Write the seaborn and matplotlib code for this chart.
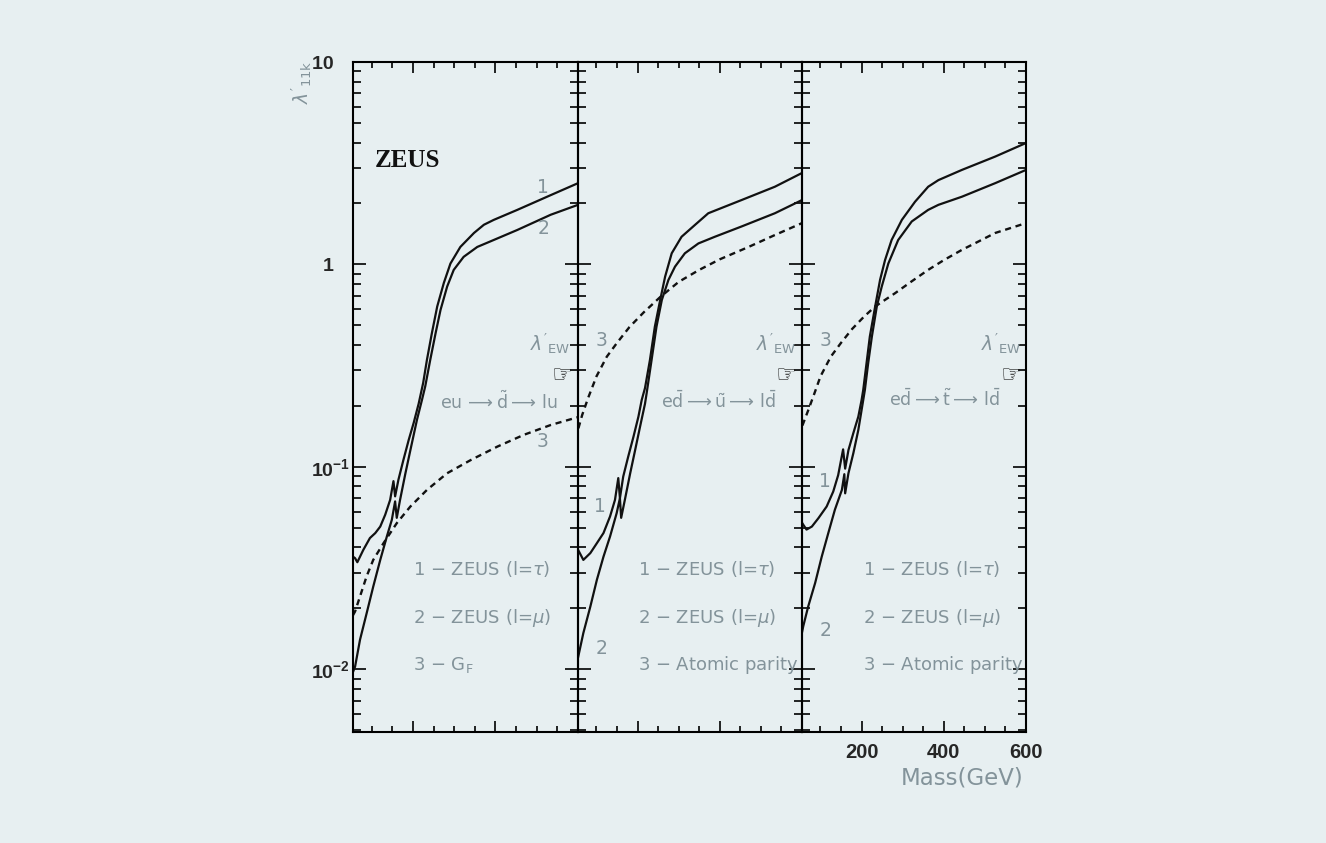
import matplotlib
matplotlib.use("Agg")
import matplotlib.pyplot as plt
from matplotlib.ticker import MultipleLocator, LogLocator, NullFormatter
import seaborn as sns

# ---------------------------------------------------------------
# Upper limits on lambda'_11k versus squark mass (GeV)
# curve 1: ZEUS (l = tau), curve 2: ZEUS (l = mu), curve 3: indirect bound
# ---------------------------------------------------------------

# eu -> d~ -> lu
d_tau_mass = [55, 60, 65.5, 80, 96, 109, 121, 133, 145, 153, 157, 165, 177, 190, 202, 214,
              225, 234, 246, 259, 275, 291, 315, 348, 372, 396, 453, 534, 600]
d_tau_lam = [0.036, 0.0354, 0.0338, 0.0389, 0.0445, 0.0471, 0.0507, 0.058, 0.0687, 0.085,
             0.0715, 0.0863, 0.108, 0.136, 0.165, 0.205, 0.26, 0.337, 0.457, 0.62, 0.81,
             1.01, 1.22, 1.43, 1.57, 1.66, 1.86, 2.20, 2.52]
d_mu_mass = [55, 60, 72, 88, 104, 121, 137, 149, 157, 161, 169, 182, 194, 210, 222, 230,
             242, 255, 267, 283, 299, 323, 356, 388, 453, 534, 600]
d_mu_lam = [0.0097, 0.0103, 0.014, 0.0189, 0.0256, 0.0347, 0.0453, 0.0547, 0.0675, 0.0560,
            0.0687, 0.093, 0.121, 0.171, 0.214, 0.25, 0.337, 0.457, 0.596, 0.777, 0.94,
            1.09, 1.22, 1.30, 1.48, 1.76, 1.97]
d_gf_mass = [55, 60, 72, 88, 104, 129, 161, 194, 234, 283, 340, 405, 469, 534, 600]
d_gf_lam = [0.0185, 0.0193, 0.0229, 0.0288, 0.0347, 0.042, 0.0527, 0.0637, 0.0769, 0.093,
            0.108, 0.126, 0.144, 0.161, 0.176]

# ed~ -> u~ -> ld~
u_tau_mass = [55, 68, 85, 101, 117, 133, 145, 153, 157, 165, 177, 190, 202, 210, 218, 230,
              242, 255, 267, 283, 307, 340, 372, 453, 534, 600]
u_tau_lam = [0.039, 0.0347, 0.0375, 0.042, 0.0471, 0.0569, 0.0687, 0.088, 0.0700, 0.0895,
             0.112, 0.141, 0.177, 0.214, 0.245, 0.337, 0.493, 0.668, 0.871, 1.135, 1.37,
             1.57, 1.79, 2.08, 2.42, 2.83]
u_mu_mass = [55, 68, 85, 101, 117, 133, 149, 157, 160, 169, 182, 194, 206, 218, 222, 234,
             246, 259, 275, 291, 315, 348, 388, 453, 534, 600]
u_mu_lam = [0.0114, 0.0151, 0.0204, 0.0277, 0.036, 0.0453, 0.059, 0.0700, 0.0560, 0.0687,
            0.093, 0.121, 0.158, 0.205, 0.231, 0.337, 0.493, 0.668, 0.838, 0.975, 1.135,
            1.27, 1.37, 1.54, 1.79, 2.08]
u_ap_mass = [56, 65, 80, 100, 125, 150, 180, 215, 255, 300, 350, 400, 470, 535, 600]
u_ap_lam = [0.155, 0.18, 0.22, 0.28, 0.35, 0.41, 0.49, 0.58, 0.69, 0.82, 0.94, 1.06, 1.22,
            1.40, 1.60]

# ed~ -> t~ -> ld~
t_tau_mass = [55, 58, 66, 79, 95, 115, 131, 143, 155, 160, 168, 180, 192, 200, 204, 212,
              220, 233, 245, 257, 273, 298, 330, 362, 387, 444, 525, 600]
t_tau_lam = [0.053, 0.0518, 0.049, 0.0507, 0.0558, 0.0637, 0.0755, 0.091, 0.122, 0.098,
             0.121, 0.147, 0.177, 0.214, 0.24, 0.325, 0.44, 0.62, 0.84, 1.05, 1.32, 1.66,
             2.04, 2.42, 2.61, 2.93, 3.41, 3.98]
t_mu_mass = [55, 58, 70, 87, 103, 119, 135, 152, 158, 160, 168, 180, 192, 204, 208, 216,
             225, 237, 249, 265, 289, 322, 362, 387, 444, 525, 600]
t_mu_lam = [0.0152, 0.0163, 0.0204, 0.0267, 0.036, 0.0471, 0.0614, 0.0769, 0.092, 0.0740,
            0.093, 0.117, 0.152, 0.214, 0.24, 0.325, 0.44, 0.62, 0.777, 1.01, 1.32, 1.63,
            1.86, 1.97, 2.16, 2.52, 2.93]
t_ap_mass = [56, 70, 85, 100, 125, 150, 177, 205, 233, 281, 320, 362, 400, 444, 485, 525, 600]
t_ap_lam = [0.16, 0.19, 0.23, 0.28, 0.35, 0.41, 0.48, 0.55, 0.62, 0.72, 0.82, 0.94, 1.05,
            1.18, 1.30, 1.43, 1.60]

reactions = [r"eu$\,\longrightarrow\tilde{\rm d}\longrightarrow\,$lu",
             r"e$\bar{\rm d}\longrightarrow\tilde{\rm u}\longrightarrow\,$l$\bar{\rm d}$",
             r"e$\bar{\rm d}\longrightarrow\tilde{\rm t}\longrightarrow\,$l$\bar{\rm d}$"]
legend_third = [r"3 $-$ G$_{\rm F}$", "3 $-$ Atomic parity", "3 $-$ Atomic parity"]
ytick_vals = [0.01, 0.1, 1, 10]
ytick_text = [r"$\mathbf{10^{-2}}$", r"$\mathbf{10^{-1}}$", "1   ", "10   "]
xtick_vals = [200, 400, 600]
xtick_text = ["200", "400", "600"]

# ---------------------------------------------------------------
sns.set_style("ticks")
bg = "#e7eff1"
grey = "#83939a"
plt.rcParams.update({
    "font.family": ["DejaVu Sans"],
    "mathtext.fontset": "custom",
    "mathtext.rm": "DejaVu Sans",
    "mathtext.it": "DejaVu Sans:italic",
    "mathtext.bf": "Liberation Sans:bold",
    "mathtext.sf": "DejaVu Sans",
    "axes.facecolor": "none",
    "axes.edgecolor": "black",
    "axes.linewidth": 1.5,
})

fig = plt.figure(figsize=(13.26, 8.43), dpi=100, facecolor=bg)
W, H = 1326.0, 843.0
edges = [353, 578, 802, 1026]
top_px, bot_px = 62, 732

panels = [
    (d_tau_mass, d_tau_lam, d_mu_mass, d_mu_lam, d_gf_mass, d_gf_lam),
    (u_tau_mass, u_tau_lam, u_mu_mass, u_mu_lam, u_ap_mass, u_ap_lam),
    (t_tau_mass, t_tau_lam, t_mu_mass, t_mu_lam, t_ap_mass, t_ap_lam),
]

# label positions inside each panel (axes fractions)
num_pos = [
    {"1": (0.846, 0.812), "2": (0.846, 0.752), "3": (0.842, 0.433)},
    {"1": (0.098, 0.336), "2": (0.105, 0.125), "3": (0.105, 0.585)},
    {"1": (0.103, 0.374), "2": (0.103, 0.152), "3": (0.103, 0.585)},
]
ew_pos = [(0.877, 0.580), (0.885, 0.580), (0.890, 0.580)]
hand_pos = [(0.930, 0.533), (0.930, 0.533), (0.935, 0.533)]
react_pos = [(0.647, 0.4925), (0.628, 0.493), (0.638, 0.496)]
leg_x = [0.267, 0.269, 0.274]
leg_y = [0.244, 0.170, 0.100]

axes = []
for i, (m1, l1, m2, l2, m3, l3) in enumerate(panels):
    left = edges[i] / W
    width = (edges[i + 1] - edges[i]) / W
    ax = fig.add_axes([left, (H - bot_px) / H, width, (bot_px - top_px) / H])
    axes.append(ax)

    sns.lineplot(x=m1, y=l1, ax=ax, color="#111111", linewidth=1.6,
                 estimator=None, sort=False)
    sns.lineplot(x=m2, y=l2, ax=ax, color="#111111", linewidth=1.6,
                 estimator=None, sort=False)
    sns.lineplot(x=m3, y=l3, ax=ax, color="#111111", linewidth=1.7,
                 estimator=None, sort=False, linestyle=(0, (2.6, 2.0)))

    ax.set_yscale("log")
    ax.set_xlim(55, 600)
    ax.set_ylim(0.0049, 10)
    ax.set_xlabel("")
    ax.set_ylabel("")

    ax.xaxis.set_major_locator(MultipleLocator(200))
    ax.xaxis.set_minor_locator(MultipleLocator(50))
    ax.yaxis.set_minor_locator(LogLocator(base=10, subs=range(2, 10), numticks=30))
    ax.yaxis.set_minor_formatter(NullFormatter())
    ax.tick_params(which="both", direction="in", top=True, bottom=True,
                   left=True, right=True, color="black", width=1.2)
    ax.tick_params(axis="y", which="major", length=9.5)
    ax.tick_params(axis="y", which="minor", length=5.5)
    ax.tick_params(axis="x", which="major", length=8)
    ax.tick_params(axis="x", which="minor", length=4)

    if i == 0:
        ax.set_yticks(ytick_vals, labels=ytick_text, fontfamily="Liberation Sans",
                      fontweight="bold", fontsize=14)
        ax.tick_params(axis="y", labelleft=True, pad=2)
    else:
        ax.set_yticks(ytick_vals)
        ax.tick_params(axis="y", labelleft=False)
    ax.tick_params(axis="y", labelright=False)

    if i == 2:
        ax.set_xticks(xtick_vals, labels=xtick_text, fontfamily="Liberation Sans",
                      fontweight="bold", fontsize=14.5)
        ax.tick_params(axis="x", which="major", pad=8)
    else:
        ax.tick_params(axis="x", labelbottom=False)
    ax.tick_params(axis="x", labeltop=False)

    for sp in ax.spines.values():
        sp.set_visible(True)
        sp.set_linewidth(1.5)
        sp.set_color("black")

    # curve numbers
    for key, (px, py) in num_pos[i].items():
        ax.text(px, py, key, transform=ax.transAxes, color=grey, fontsize=13.5,
                ha="center", va="center")
    # electroweak reference marker
    ax.text(*ew_pos[i], r"$\lambda'_{\rm EW}$", transform=ax.transAxes, color=grey,
            fontsize=13.5, ha="center", va="center")
    ax.text(*hand_pos[i], "\u261e", transform=ax.transAxes, color="#1a1a1a",
            fontsize=17, ha="center", va="center")
    # process
    ax.text(*react_pos[i], reactions[i], transform=ax.transAxes, color=grey,
            fontsize=12.5, ha="center", va="center")
    # curve key
    legend_lines = [r"1 $-$ ZEUS (l=$\tau$)", r"2 $-$ ZEUS (l=$\mu$)", legend_third[i]]
    for txt, yy in zip(legend_lines, leg_y):
        ax.text(leg_x[i], yy, txt, transform=ax.transAxes, color=grey,
                fontsize=13, ha="left", va="center")

axes[0].text(0.098, 0.843, "ZEUS", transform=axes[0].transAxes,
             fontfamily="Liberation Serif", fontweight="bold", fontsize=18,
             color="#111111", ha="left", va="baseline")

fig.text(302 / W, 1 - 82 / H, r"$\lambda'_{\rm 11k}$", rotation=90, color=grey,
         fontsize=13.5, ha="center", va="center")
fig.text(962 / W, 1 - 778 / H, "Mass(GeV)", color=grey, fontsize=16.5,
         ha="center", va="center")

fig.savefig("out.png", dpi=100, facecolor=bg)
